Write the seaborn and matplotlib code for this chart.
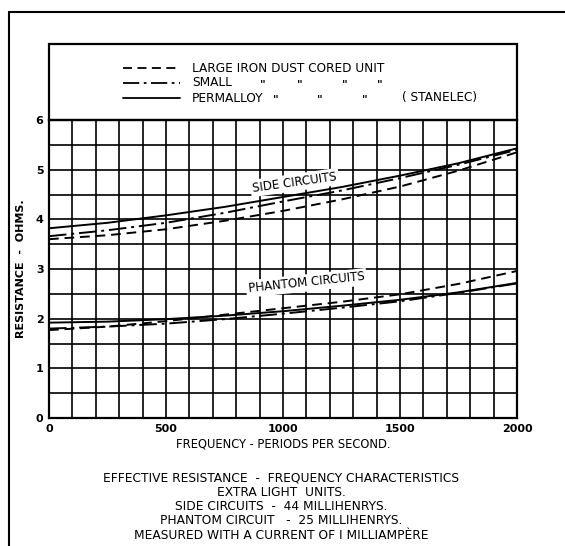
"""Effective resistance - frequency characteristics, extra light loading units."""
import pandas as pd
import matplotlib.pyplot as plt
import seaborn as sns
from matplotlib.lines import Line2D
from matplotlib.patches import Rectangle

# frequency points (periods per second)
freq = [0, 250, 500, 750, 1000, 1250, 1500, 1750, 2000]

# side circuits, resistance in ohms
side_large = [3.60, 3.68, 3.80, 3.97, 4.17, 4.40, 4.66, 4.98, 5.35]
side_small = [3.66, 3.78, 3.93, 4.13, 4.36, 4.58, 4.83, 5.10, 5.40]
side_permalloy = [3.82, 3.93, 4.08, 4.25, 4.45, 4.65, 4.88, 5.13, 5.43]

# phantom circuits, resistance in ohms
phantom_large = [1.77, 1.84, 1.95, 2.08, 2.21, 2.34, 2.49, 2.70, 2.96]
phantom_small = [1.80, 1.84, 1.90, 1.99, 2.10, 2.22, 2.35, 2.52, 2.71]
phantom_permalloy = [1.92, 1.94, 1.99, 2.06, 2.15, 2.26, 2.38, 2.53, 2.72]

units = ['LARGE IRON DUST CORED UNIT', 'SMALL', 'PERMALLOY']
x_ticks = [0, 500, 1000, 1500, 2000]
y_ticks = [0, 1, 2, 3, 4, 5, 6]

caption = [
    'EFFECTIVE RESISTANCE  -  FREQUENCY CHARACTERISTICS',
    'EXTRA LIGHT  UNITS.',
    'SIDE CIRCUITS  -  44 MILLIHENRYS.',
    'PHANTOM CIRCUIT   -  25 MILLIHENRYS.',
    'MEASURED WITH A CURRENT OF I MILLIAMPÈRE',
]

styles = {units[0]: (0, (5, 3)), units[1]: (0, (9, 2.5, 1.5, 2.5)), units[2]: '-'}

rows = []
for circuit, series in [('side', [side_large, side_small, side_permalloy]),
                        ('phantom', [phantom_large, phantom_small, phantom_permalloy])]:
    for unit, vals in zip(units, series):
        for f, r in zip(freq, vals):
            rows.append({'circuit': circuit, 'unit': unit, 'freq': f, 'ohms': r})
df = pd.DataFrame(rows)

sns.set_style('white')
plt.rcParams['font.family'] = ['DejaVu Sans']
for key in ['text.color', 'axes.labelcolor', 'xtick.color', 'ytick.color']:
    plt.rcParams[key] = 'black'

W, H = 565, 546
fig = plt.figure(figsize=(W / 100, H / 100), dpi=100)
L, R, T, B = 49, 517, 120, 418
ax = fig.add_axes([L / W, 1 - B / H, (R - L) / W, (B - T) / H])

for (circuit, unit), g in df.groupby(['circuit', 'unit']):
    sns.lineplot(data=g, x='freq', y='ohms', ax=ax, color='black',
                 linewidth=1.4, linestyle=styles[unit], zorder=3)

ax.set_xlim(0, 2000)
ax.set_ylim(0, 6)
ax.set_xticks(range(0, 2001, 100), minor=True)
ax.set_yticks([v / 2 for v in range(13)], minor=True)
ax.set_xticks(x_ticks)
ax.set_yticks(y_ticks)
ax.grid(True, which='both', color='black', linewidth=1.2)
ax.set_axisbelow(True)
ax.tick_params(which='both', length=0, pad=4, labelsize=8)
for lab in ax.get_xticklabels() + ax.get_yticklabels():
    lab.set_fontweight('bold')
for s in ax.spines.values():
    s.set_linewidth(1.6)
    s.set_color('black')

ax.set_xlabel('FREQUENCY - PERIODS PER SECOND.', fontsize=8.3, labelpad=3)
ax.set_ylabel('RESISTANCE  -  OHMS.', fontsize=8, fontweight='bold', labelpad=7)

box = dict(facecolor='white', edgecolor='none', pad=1.5)
ax.text(1050, 4.74, 'SIDE CIRCUITS', fontsize=8.5, ha='center', va='center',
        rotation=8, bbox=box, zorder=4)
ax.text(1100, 2.72, 'PHANTOM CIRCUITS', fontsize=8.5, ha='center', va='center',
        rotation=6, bbox=box, zorder=4)

# legend panel above the plot
def fx(px):
    return px / W

def fy(py):
    return 1 - py / H

fig.add_artist(Rectangle((fx(L), fy(T)), (R - L) / W, (T - 44) / H,
                         transform=fig.transFigure, fill=False,
                         edgecolor='black', linewidth=1.6))
for i, unit in enumerate(units):
    yy = fy(68 + 15 * i)
    fig.add_artist(Line2D([fx(123), fx(180)], [yy, yy], color='black',
                          linewidth=1.3, linestyle=styles[unit],
                          transform=fig.transFigure))
    fig.text(fx(192), yy, unit, fontsize=8.7, va='center')
for i, xs in enumerate([[263, 300, 345, 380], [276, 320, 365]]):
    for px in xs:
        fig.text(fx(px), fy(84 + 15 * i), '"', fontsize=8, fontweight='bold',
                 va='center', ha='center')
fig.text(fx(402), fy(98), '( STANELEC)', fontsize=8.7, va='center')

# outer frame
fig.add_artist(Line2D([fx(9), fx(9)], [fy(12), 0], color='black',
                      linewidth=1.5, transform=fig.transFigure))
fig.add_artist(Line2D([fx(9), 1], [fy(12), fy(12)], color='black',
                      linewidth=1.5, transform=fig.transFigure))

for i, line in enumerate(caption):
    fig.text(fx(281), fy(478 + 14.3 * i), line, fontsize=8.8,
             ha='center', va='center')

plt.savefig('out.png', dpi=100)
plt.close()
